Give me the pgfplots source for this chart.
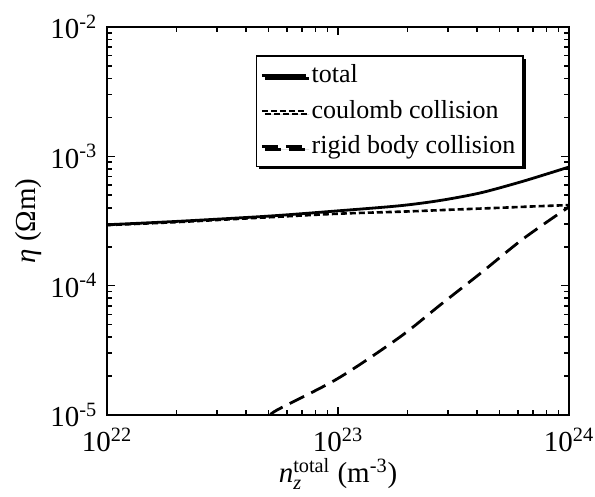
\documentclass[border=0pt]{standalone}
\usepackage{fontspec}
\setmainfont{Liberation Serif}
\usepackage{pgfplots}
\pgfplotsset{compat=1.18}
\usetikzlibrary{shadows}
\begin{document}
\fontsize{14}{16}\selectfont
\begin{tikzpicture}
\path[use as bounding box] (-53.5pt,-41pt) rectangle (244pt,207.5pt);
\begin{axis}[
  at={(0pt,0pt)}, anchor=south west,
  scale only axis, width=231pt, height=194pt,
  xmode=log, ymode=log,
  xmin=1e22, xmax=1e24, ymin=1e-5, ymax=1e-2,
  xtick={1e22,1e23,1e24},
  xticklabels={10\textsuperscript{22},10\textsuperscript{23},10\textsuperscript{24}},
  ytick={1e-5,1e-4,1e-3,1e-2},
  yticklabels={10\textsuperscript{-5},10\textsuperscript{-4},10\textsuperscript{-3},10\textsuperscript{-2}},
  tick align=inside,
  major tick length=4pt, minor tick length=2.5pt,
  axis line style={line width=1pt},
  every tick/.style={black, line width=0.8pt},
  tick label style={font=\fontsize{14.5}{16}\selectfont},
  xticklabel style={yshift=-1.5pt},
  label style={font=\fontsize{14.5}{16}\selectfont},
  xlabel={$\mathit{n}_{\mathit{z}}^{\mathrm{total}}$ (m\textsuperscript{-3})},
  ylabel={\textit{η} (Ωm)},
  xlabel style={yshift=6.5pt},
  ylabel style={yshift=-5pt},
  legend style={at={(0.9026,0.928)}, anchor=north east, draw=black, line width=0.8pt,
    font=\fontsize{13}{15}\selectfont, row sep=2.5pt, inner xsep=2pt, inner ysep=2.5pt,
    drop shadow={shadow xshift=1.5pt, shadow yshift=-1.5pt, fill=black, opacity=1},
    legend cell align=left},
  legend image code/.code={\draw[#1] (0cm,0cm) -- (0.78cm,0cm);},
]
\addplot[black, line width=1.4pt, smooth] coordinates {
 (1e22,2.96e-4) (2e22,3.14e-4) (5e22,3.45e-4) (1e23,3.79e-4) (1.85e23,4.15e-4)
 (2.77e23,4.56e-4) (4.12e23,5.21e-4) (6.1e23,6.3e-4) (8e23,7.3e-4) (1e24,8.27e-4)};
\addlegendentry{total}
\addplot[black, line width=1.3pt, dash pattern=on 3pt off 1.5pt, smooth] coordinates {
 (1e22,2.94e-4) (2e22,3.10e-4) (5e22,3.38e-4) (1e23,3.60e-4) (2e23,3.75e-4)
 (3e23,3.86e-4) (5e23,4.0e-4) (7e23,4.1e-4) (1e24,4.2e-4)};
\addlegendentry{coulomb collision}
\addplot[black, line width=1.4pt, dash pattern=on 8pt off 4pt, smooth] coordinates {
 (5.1e22,9.8e-6) (5.43e22,1.09e-5) (1e23,1.92e-5) (1.85e23,4.0e-5) (2.77e23,7.1e-5)
 (4.12e23,1.24e-4) (6.1e23,2.19e-4) (8e23,3.1e-4) (1e24,4.07e-4)};
\addlegendentry{rigid body collision}
\end{axis}
\end{tikzpicture}
\end{document}
